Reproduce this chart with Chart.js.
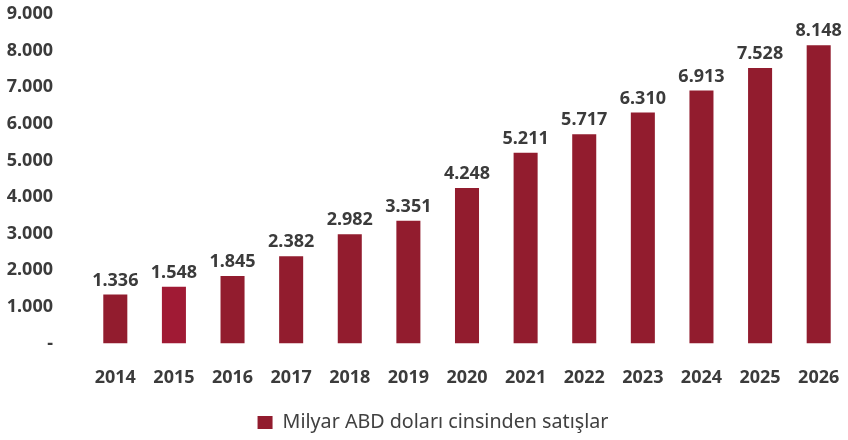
<!DOCTYPE html>
<html>
<head>
<meta charset="utf-8">
<script src="https://cdn.jsdelivr.net/npm/chart.js@4/dist/chart.umd.min.js"></script>
<style>
html,body{margin:0;padding:0;background:#fff;}
#wrap{width:848px;height:440px;}
</style>
</head>
<body>
<div id="wrap"><canvas id="c" width="848" height="440"></canvas></div>
<script>
const categories = ['2014','2015','2016','2017','2018','2019','2020','2021','2022','2023','2024','2025','2026'];
const sales = [1336,1548,1845,2382,2982,3351,4248,5211,5717,6310,6913,7528,8148];
const seriesName = 'Milyar ABD doları cinsinden satışlar';
const yTicks = [0,1000,2000,3000,4000,5000,6000,7000,8000,9000];

function fmt(v){
  if (v === 0) return '-';
  return String(Math.round(v)).replace(/\B(?=(\d{3})+(?!\d))/g, '.');
}

const numFont = {family: '"Noto Sans", sans-serif', size: 18, weight: 'bold'};
const legendFont = '19.7px "Noto Sans", sans-serif';
const textColor = '#3b3b3b';
const barColor = '#921c2e';
const barColors = categories.map(c => c === '2015' ? '#a01a34' : barColor);

const valueLabels = {
  id: 'valueLabels',
  afterDatasetsDraw(chart){
    const ctx = chart.ctx;
    const meta = chart.getDatasetMeta(0);
    ctx.save();
    ctx.font = `${numFont.weight} ${numFont.size}px ${numFont.family}`;
    ctx.fillStyle = textColor;
    ctx.textAlign = 'center';
    ctx.textBaseline = 'bottom';
    meta.data.forEach((bar, i) => {
      ctx.fillText(fmt(sales[i]), bar.x, bar.y - 5);
    });
    ctx.restore();
  }
};

const bottomLegend = {
  id: 'bottomLegend',
  afterDraw(chart){
    const ctx = chart.ctx;
    const label = chart.data.datasets[0].label;
    ctx.save();
    ctx.font = legendFont;
    const tw = ctx.measureText(label).width;
    const box = 15, gap = 10;
    const total = box + gap + tw;
    const cx = chart.width / 2 + 9;
    const x0 = cx - total / 2;
    const cy = chart.height - 17.5;
    ctx.fillStyle = barColor;
    ctx.fillRect(x0, cy - 6.5, box, 13);
    ctx.fillStyle = '#404040';
    ctx.textAlign = 'left';
    ctx.textBaseline = 'middle';
    ctx.fillText(label, x0 + box + gap, cy);
    ctx.restore();
  }
};

new Chart(document.getElementById('c'), {
  type: 'bar',
  data: {
    labels: categories,
    datasets: [{
      label: seriesName,
      data: sales,
      backgroundColor: barColors,
      borderWidth: 0,
      barPercentage: 0.82,
      categoryPercentage: 0.5
    }]
  },
  options: {
    responsive: false,
    animation: false,
    layout: {padding: {top: 0, left: 0, right: 0, bottom: 34}},
    plugins: {
      legend: {display: false},
      tooltip: {enabled: false}
    },
    scales: {
      x: {
        afterFit: s => { s.height = 62.5; s.paddingLeft = 0; s.paddingRight = 0; },
        grid: {display: false},
        border: {display: false},
        ticks: {color: textColor, font: numFont, padding: 16, maxRotation: 0}
      },
      y: {
        min: 0, max: 9000,
        afterBuildTicks: s => { s.ticks = yTicks.map(v => ({value: v})); },
        afterFit: s => { s.width = 86; s.paddingTop = 14; s.paddingBottom = 0; },
        grid: {display: false},
        border: {display: false},
        ticks: {color: textColor, font: numFont, padding: 25, callback: v => fmt(v)}
      }
    }
  },
  plugins: [valueLabels, bottomLegend]
});
</script>
</body>
</html>
